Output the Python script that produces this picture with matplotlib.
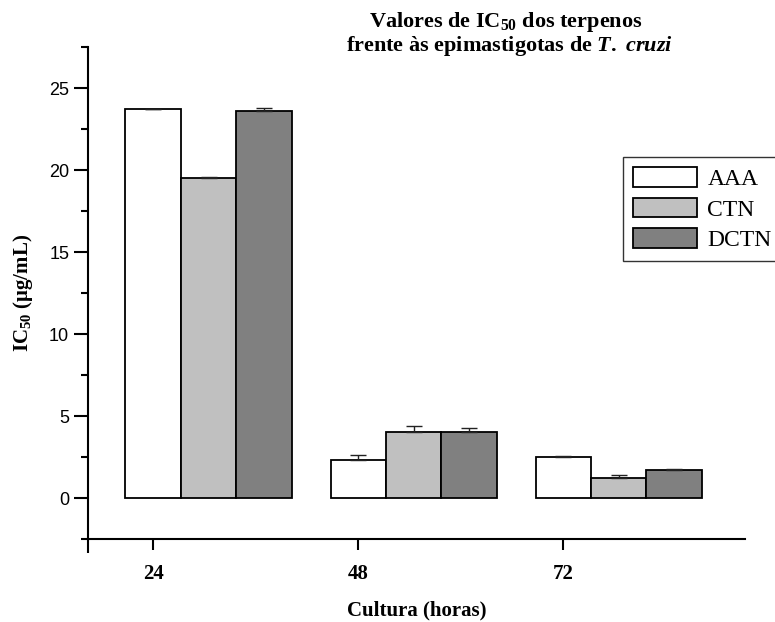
import numpy as np
import matplotlib
matplotlib.use('Agg')
import matplotlib.pyplot as plt
from matplotlib.ticker import MultipleLocator, FixedLocator

plt.rcParams['font.family'] = 'Liberation Serif'
plt.rcParams['mathtext.fontset'] = 'custom'
plt.rcParams['mathtext.rm'] = 'Liberation Serif:bold'
plt.rcParams['mathtext.bf'] = 'Liberation Serif:bold'
plt.rcParams['mathtext.it'] = 'Liberation Serif:italic:bold'

# data
horas = ['24', '48', '72']
series = ['AAA', 'CTN', 'DCTN']
aaa = [23.7, 2.3, 2.5]
ctn = [19.5, 4.0, 1.2]
dctn = [23.6, 4.05, 1.7]
aaa_err = [0.05, 0.35, 0.08]
ctn_err = [0.05, 0.4, 0.18]
dctn_err = [0.16, 0.24, 0.1]

values = [aaa, ctn, dctn]
errors = [aaa_err, ctn_err, dctn_err]
colors = ['white', '#c0c0c0', '#808080']

fig = plt.figure(figsize=(7.75, 6.22), dpi=100)
ax = fig.add_axes([0.1135, 0.1334, 0.848, 0.791])

x = np.arange(len(horas))
w = 0.27
for k in range(3):
    ax.bar(x + (k - 1) * w, values[k], w, color=colors[k], edgecolor='black',
           linewidth=1.3, label=series[k], zorder=2)
    ax.errorbar(x + (k - 1) * w, values[k], yerr=[np.zeros(3), errors[k]],
                fmt='none', ecolor='#222222', elinewidth=1.0, capsize=5.5,
                capthick=1.0, zorder=3)

ax.set_xlim(-0.588, 2.617)
ax.set_ylim(-2.5, 27.5)

ax.spines['top'].set_visible(False)
ax.spines['right'].set_visible(False)
ax.spines['left'].set_linewidth(1.5)
ax.spines['bottom'].set_linewidth(1.5)

ax.yaxis.set_major_locator(MultipleLocator(5))
ax.yaxis.set_minor_locator(MultipleLocator(2.5))
ax.tick_params(axis='y', which='major', direction='out', length=10, width=1.5,
               labelsize=13)
ax.tick_params(axis='y', which='minor', direction='out', length=5, width=1.5)
for t in ax.get_yticklabels():
    t.set_family('Liberation Sans')

ax.set_xticks(x - w)
ax.set_xticklabels(horas, fontsize=15, fontweight='bold')
ax.xaxis.set_minor_locator(FixedLocator([-0.588]))
ax.tick_params(axis='x', which='major', direction='out', length=8, width=1.5, pad=10)
ax.tick_params(axis='x', which='minor', direction='out', length=10, width=1.5)

ax.set_xlabel('Cultura (horas)', fontsize=15, fontweight='bold', labelpad=12)
ax.set_ylabel(r'IC$_{50}$ ($\mathregular{\mu}$g/mL)', fontsize=15,
              fontweight='bold', labelpad=10)

fig.text(0.652, 0.965, r'Valores de IC$_{50}$ dos terpenos',
         ha='center', va='center', fontsize=16, fontweight='bold')
fig.text(0.658, 0.926, r'frente às epimastigotas de $\mathit{T.\ cruzi}$',
         ha='center', va='center', fontsize=16, fontweight='bold')

leg = ax.legend(loc='upper left', bbox_to_anchor=(623 / 775, 1 - 157 / 622),
                bbox_transform=fig.transFigure, fontsize=17, frameon=True,
                fancybox=False, edgecolor='black', handlelength=2.7,
                handleheight=0.9, labelspacing=0.33, borderpad=0.42,
                handletextpad=0.45, borderaxespad=0)
leg.get_frame().set_linewidth(1.0)

fig.savefig('out.png', dpi=100)
